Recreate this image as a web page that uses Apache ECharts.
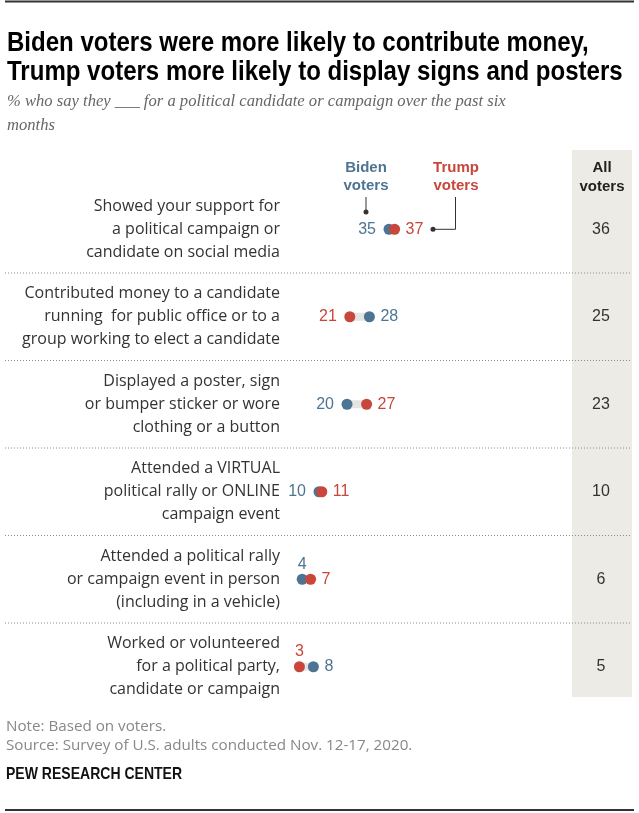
<!DOCTYPE html>
<html>
<head>
<meta charset="utf-8">
<script src="https://cdn.jsdelivr.net/npm/echarts@6/dist/echarts.min.js"></script>
<style>
html,body{margin:0;padding:0;background:#fff;}
#chart{width:639px;height:813px;}
</style>
</head>
<body>
<div id="chart"></div>
<script>
const categories = [
  'Showed your support for\na political campaign or\ncandidate on social media',
  'Contributed money to a candidate\nrunning  for public office or to a\ngroup working to elect a candidate',
  'Displayed a poster, sign\nor bumper sticker or wore\nclothing or a button',
  'Attended a VIRTUAL\npolitical rally or ONLINE\ncampaign event',
  'Attended a political rally\nor campaign event in person\n(including in a vehicle)',
  'Worked or volunteered\nfor a political party,\ncandidate or campaign'
];
const bidenValues = [35, 28, 20, 10, 4, 8];
const trumpValues = [37, 21, 27, 11, 7, 3];
const allVoterValues = [36, 25, 23, 10, 6, 5];

const BLUE = '#4d7593';
const RED = '#c8463b';
const SANS = '"Open Sans", "Liberation Sans", sans-serif';
const ARIAL = '"Liberation Sans", sans-serif';
const SERIF = '"Liberation Serif", "DejaVu Serif", serif';

const rows = categories.map((c, i) => [i, bidenValues[i], trumpValues[i], allVoterValues[i]]);

function txt(text, x, y, fill, size, weight, align, family, style) {
  return {
    type: 'text',
    style: {
      text: text, x: x, y: y, fill: fill,
      fontSize: size, fontWeight: weight || 'normal', fontFamily: family || SANS,
      fontStyle: style || 'normal',
      align: align || 'left', textAlign: align || 'left',
      verticalAlign: 'middle', textVerticalAlign: 'middle'
    }
  };
}
function gtxt(text, x, y, fill, size, weight, align, family, style, sx) {
  const t = txt(text, 0, 0, fill, size, weight, align, family, style);
  t.x = x; t.y = y; t.scaleX = sx || 1; t.z = 5;
  return t;
}

const chart = echarts.init(document.getElementById('chart'), null, {renderer: 'canvas'});

const option = {
  animation: false,
  backgroundColor: '#fff',
  grid: {left: 291, width: 280, top: 185.5, height: 525},
  xAxis: {type: 'value', min: 0, max: 100, show: false},
  yAxis: {
    type: 'category', data: categories, inverse: true,
    axisLine: {show: false}, axisTick: {show: false}, splitLine: {show: false},
    axisLabel: {
      margin: 11, align: 'right', fontSize: 16, lineHeight: 23,
      color: '#333', fontFamily: SANS
    }
  },
  graphic: [
    {type: 'rect', z: 0, shape: {x: 572, y: 150, width: 60, height: 547}, style: {fill: '#edebe5'}},
    {type: 'line', z: 1, shape: {x1: 5, y1: 1.5, x2: 634, y2: 1.5}, style: {stroke: '#333', lineWidth: 2}},
    {type: 'line', z: 1, shape: {x1: 5, y1: 810, x2: 634, y2: 810}, style: {stroke: '#333', lineWidth: 2}},
    gtxt('Biden voters were more likely to contribute money,', 7, 44, '#000', 27, 'bold', 'left', ARIAL, 'normal', 0.89),
    gtxt('Trump voters more likely to display signs and posters', 7, 73, '#000', 27, 'bold', 'left', ARIAL, 'normal', 0.89),
    gtxt('% who say they ___ for a political candidate or campaign over the past six', 7, 102, '#666', 16.6, 'normal', 'left', SERIF, 'italic'),
    gtxt('months', 7, 126, '#666', 16.6, 'normal', 'left', SERIF, 'italic'),
    gtxt('Biden', 366, 168, BLUE, 15, 'bold', 'center', ARIAL),
    gtxt('voters', 366, 186, BLUE, 15, 'bold', 'center', ARIAL),
    gtxt('Trump', 456, 168, RED, 15, 'bold', 'center', ARIAL),
    gtxt('voters', 456, 186, RED, 15, 'bold', 'center', ARIAL),
    {type: 'line', z: 5, shape: {x1: 366, y1: 197, x2: 366, y2: 212}, style: {stroke: '#333', lineWidth: 1}},
    {type: 'circle', z: 5, shape: {cx: 366, cy: 212, r: 2.5}, style: {fill: '#333'}},
    {type: 'polyline', z: 5, shape: {points: [[455.5, 197], [455.5, 229.3], [433, 229.3]]}, style: {stroke: '#333', lineWidth: 1, fill: null}},
    {type: 'circle', z: 5, shape: {cx: 433, cy: 229.3, r: 2.5}, style: {fill: '#333'}},
    gtxt('All', 602, 168, '#222', 15, 'bold', 'center', ARIAL),
    gtxt('voters', 602, 187, '#222', 15, 'bold', 'center', ARIAL),
    gtxt('Note: Based on voters.', 6, 727, '#888', 15.2, 'normal', 'left', SANS),
    gtxt('Source: Survey of U.S. adults conducted Nov. 12-17, 2020.', 6, 746, '#888', 15.2, 'normal', 'left', SANS),
    gtxt('PEW RESEARCH CENTER', 6, 774, '#111', 16.5, 'bold', 'left', ARIAL, 'normal', 0.85)
  ],
  series: [{
    type: 'custom',
    coordinateSystem: 'cartesian2d',
    encode: {x: [1, 2], y: 0},
    data: rows,
    z: 3,
    renderItem: function (params, api) {
      const cat = api.value(0);
      const b = api.value(1), t = api.value(2), a = api.value(3);
      const pb = api.coord([b, cat]);
      const pt = api.coord([t, cat]);
      const band = api.size([0, 1])[1];
      const y = pb[1];
      const children = [];
      if (params.dataIndex < categories.length - 1) {
        children.push({
          type: 'line', shape: {x1: 5, y1: y + band / 2, x2: 632, y2: y + band / 2},
          style: {stroke: '#8c8c8c', lineWidth: 1, lineDash: [1, 2]}
        });
      }
      const x0 = Math.min(pb[0], pt[0]), x1 = Math.max(pb[0], pt[0]);
      children.push({type: 'rect', shape: {x: x0, y: y - 4, width: x1 - x0, height: 8}, style: {fill: '#e4e4e4'}});
      children.push({type: 'circle', shape: {cx: pb[0], cy: y, r: 5.5}, style: {fill: BLUE}});
      children.push({type: 'circle', shape: {cx: pt[0], cy: y, r: 5.5}, style: {fill: RED}});
      const lowIsBiden = b <= t;
      const low = lowIsBiden ? {v: b, p: pb, c: BLUE} : {v: t, p: pt, c: RED};
      const high = lowIsBiden ? {v: t, p: pt, c: RED} : {v: b, p: pb, c: BLUE};
      if (low.v < 8) {
        children.push(txt(String(low.v), low.p[0], y - 15, low.c, 16, 'normal', 'center', ARIAL));
      } else {
        children.push(txt(String(low.v), low.p[0] - 13, y, low.c, 16, 'normal', 'right', ARIAL));
      }
      children.push(txt(String(high.v), high.p[0] + 11, y, high.c, 16, 'normal', 'left', ARIAL));
      children.push(txt(String(a), 601, y, '#333', 16, 'normal', 'center', ARIAL));
      return {type: 'group', children: children};
    }
  }]
};
chart.setOption(option);
</script>
</body>
</html>
